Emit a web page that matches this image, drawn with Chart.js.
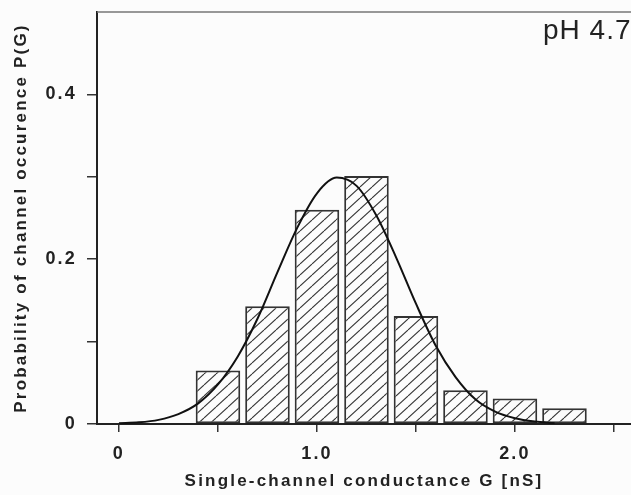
<!DOCTYPE html>
<html>
<head>
<meta charset="utf-8">
<script src="https://cdn.jsdelivr.net/npm/chart.js@4"></script>
<style>
  html, body { margin: 0; padding: 0; background: #fcfcfc; }
  canvas { display: block; }
</style>
</head>
<body>
<canvas id="histChart" width="631" height="495"></canvas>
<script>
// histogram bins (center of each bin, nS) and measured probabilities
const binCenters = [0.5, 0.75, 1.0, 1.25, 1.5, 1.75, 2.0, 2.25];
const probabilities = [0.065, 0.143, 0.260, 0.301, 0.131, 0.041, 0.031, 0.019];

// fitted curve
const fitG = [0, 0.1, 0.2, 0.3, 0.4, 0.5, 0.6, 0.7, 0.8, 0.9, 1.0, 1.1,
              1.2, 1.3, 1.4, 1.5, 1.6, 1.7, 1.8, 1.9, 2.0, 2.1, 2.2];
const fitP = [0.001, 0.002, 0.005, 0.012, 0.025, 0.048, 0.082, 0.128, 0.184, 0.238, 0.280, 0.299,
              0.289, 0.253, 0.202, 0.146, 0.095, 0.057, 0.030, 0.015, 0.007, 0.003, 0.001];

// axis ticks
const xTicks = [0, 0.5, 1.0, 1.5, 2.0, 2.5];
const xTickLabels = ['0', '', '1.0', '', '2.0', ''];
const yTicks = [0, 0.1, 0.2, 0.3, 0.4];
const yTickLabels = ['0', '', '0.2', '', '0.4'];

const label = 'pH 4.7';
const fontFamily = '"Liberation Sans", Arial, sans-serif';

function makeHatch() {
    const w = 12, h = 11;
    const c = document.createElement('canvas');
    c.width = w; c.height = h;
    const g = c.getContext('2d');
    g.fillStyle = '#fcfcfc';
    g.fillRect(0, 0, w, h);
    g.strokeStyle = '#333';
    g.lineWidth = 1.1;
    for (let k = -1; k <= 1; k++) {
        g.beginPath();
        g.moveTo(k * w, h);
        g.lineTo(k * w + w, 0);
        g.stroke();
    }
    return g.createPattern(c, 'repeat');
}

const frame = {
    id: 'frame',
    beforeDraw(chart) {
        chart.ctx.letterSpacing = '2.2px';
    },
    afterDraw(chart) {
        const ctx = chart.ctx;
        const a = chart.chartArea;
        ctx.save();
        ctx.strokeStyle = '#777';
        ctx.lineWidth = 1.5;
        ctx.beginPath();
        ctx.moveTo(a.left, a.top);
        ctx.lineTo(a.right, a.top);
        ctx.stroke();
        ctx.letterSpacing = '1px';
        ctx.fillStyle = '#222';
        ctx.font = '28px ' + fontFamily;
        ctx.textAlign = 'left';
        ctx.textBaseline = 'alphabetic';
        ctx.fillText(label, 543, 39);
        ctx.restore();
    }
};

const ctx = document.getElementById('histChart').getContext('2d');
new Chart(ctx, {
    type: 'bar',
    data: {
        datasets: [{
            type: 'line',
            data: fitG.map((g, i) => ({ x: g, y: fitP[i] })),
            borderColor: '#111',
            borderWidth: 2,
            pointRadius: 0,
            cubicInterpolationMode: 'monotone',
            fill: false
        }, {
            type: 'bar',
            data: binCenters.map((g, i) => ({ x: g, y: probabilities[i] })),
            backgroundColor: makeHatch(),
            borderColor: '#333',
            borderWidth: 2,
            borderSkipped: false,
            categoryPercentage: 1.0,
            barPercentage: 0.9
        }]
    },
    options: {
        responsive: false,
        animation: false,
        layout: { padding: { top: 12, left: 0, right: 0, bottom: 0 } },
        plugins: {
            legend: { display: false },
            tooltip: { enabled: false }
        },
        scales: {
            x: {
                type: 'linear',
                offset: false,
                min: -0.111,
                max: 2.586,
                afterFit: s => { s.height = 71; s.paddingLeft = 0; s.paddingRight = 0; },
                afterBuildTicks: s => { s.ticks = xTicks.map(v => ({ value: v })); },
                ticks: {
                    autoSkip: false,
                    maxRotation: 0,
                    padding: 11,
                    color: '#222',
                    font: { family: fontFamily, size: 18, weight: 'bold' },
                    callback: (v, i) => xTickLabels[i]
                },
                grid: { offset: false, drawOnChartArea: false, drawTicks: true, tickLength: 8, color: '#333', lineWidth: 1.5 },
                border: { display: true, color: '#222', width: 2 },
                title: {
                    display: true,
                    text: 'Single-channel conductance G [nS]',
                    color: '#222',
                    font: { family: fontFamily, size: 17, weight: 'bold' },
                    padding: { top: 0, bottom: 3 }
                }
            },
            y: {
                min: 0,
                max: 0.5,
                afterFit: s => { s.width = 97; s.paddingTop = 0; s.paddingBottom = 0; },
                afterBuildTicks: s => { s.ticks = yTicks.map(v => ({ value: v })); },
                ticks: {
                    padding: 10,
                    color: '#222',
                    font: { family: fontFamily, size: 18, weight: 'bold' },
                    callback: (v, i) => yTickLabels[i]
                },
                grid: { drawOnChartArea: false, drawTicks: true, tickLength: 10, color: '#333', lineWidth: 1.5 },
                border: { display: true, color: '#222', width: 2 },
                title: {
                    display: true,
                    text: 'Probability of channel occurence P(G)',
                    color: '#222',
                    font: { family: fontFamily, size: 17, weight: 'bold' },
                    padding: { top: 11, bottom: 0 }
                }
            }
        }
    },
    plugins: [frame]
});
</script>
</body>
</html>
